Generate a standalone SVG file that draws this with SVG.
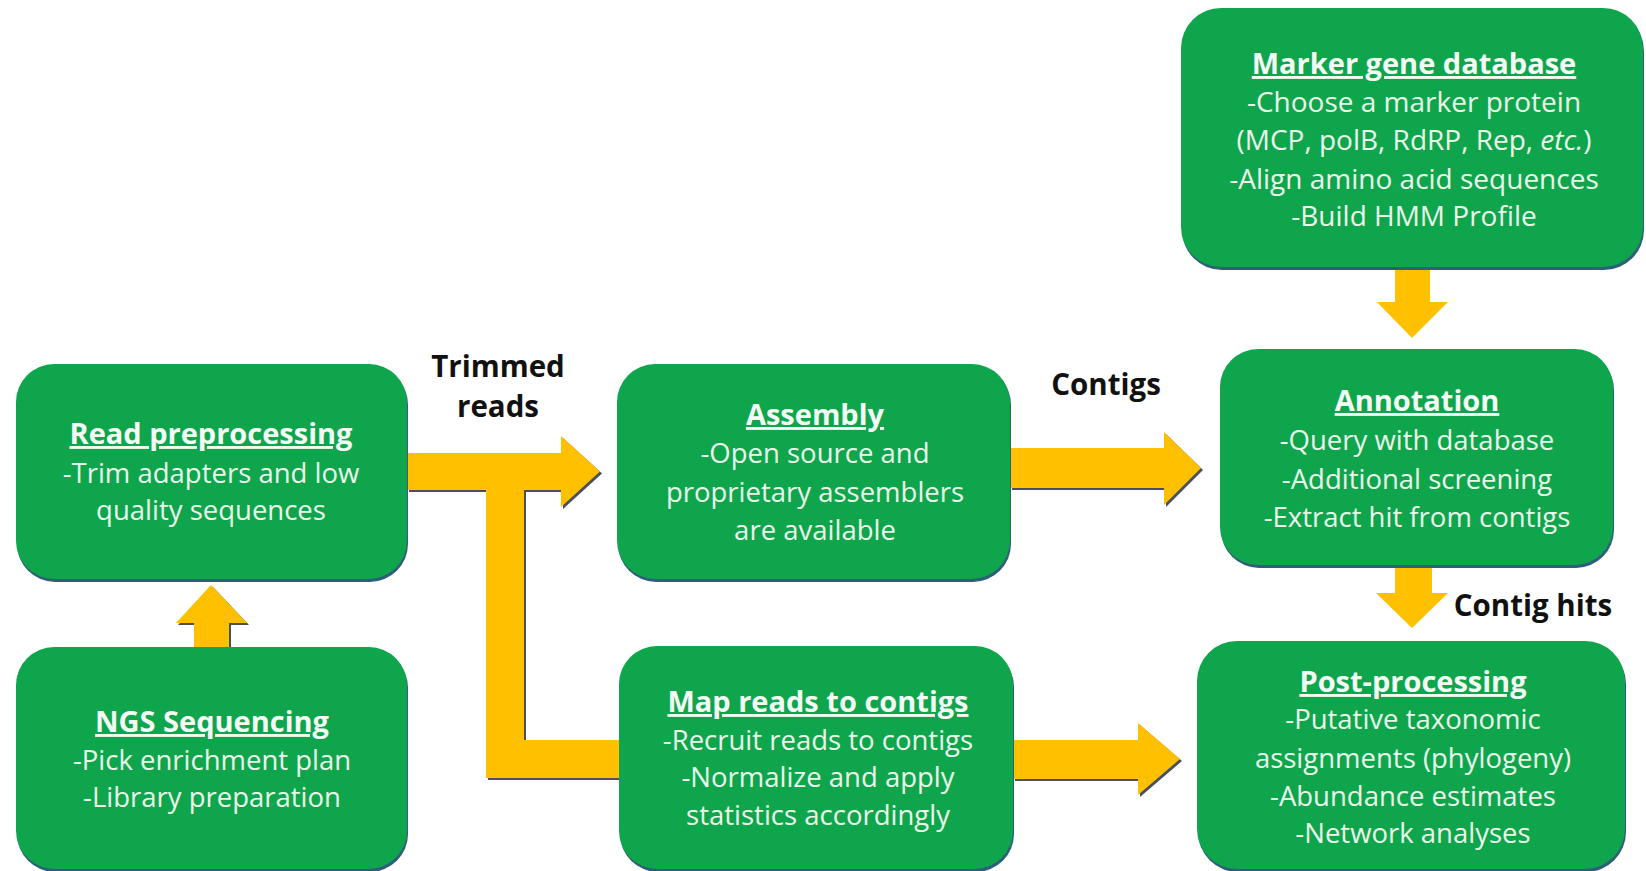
<svg xmlns="http://www.w3.org/2000/svg" width="1646" height="871" viewBox="0 0 1646 871">
<defs>
<style>
.box{fill:#0fa54d}
.sh{fill:#2d5f78}
.t{font-family:"Open Sans","Liberation Sans",sans-serif;fill:#eaf8ea;text-anchor:middle;font-size:27.5px}
.m{font-size:28px}
.h{font-weight:bold;text-decoration:underline;font-size:29px;fill:#f4fbf4}
.lab{font-family:"Open Sans","Liberation Sans",sans-serif;font-weight:bold;font-size:29.5px;fill:#111;text-anchor:middle}
.arr{fill:#ffc000}
.ash{fill:#4a4f5e}
</style>
</defs>
<rect width="1646" height="871" fill="#ffffff"/>
<g id="connectors">
<g id="arrow-trimmed">
<path class="ash" transform="translate(2,2)" d="M407,453 H561 V436 L600,471.5 L561,507 V490 H524 V740 H619 V778 H486 V490 H407 Z"/>
<path class="arr" d="M407,453 H561 V436 L600,471.5 L561,507 V490 H524 V740 H619 V778 H486 V490 H407 Z"/>
</g>
<g id="arrow-ngs">
<path class="ash" transform="translate(2,2)" d="M194,647 V623 H176 L211,585 L247,623 H229 V647 Z"/>
<path class="arr" d="M194,647 V623 H176 L211,585 L247,623 H229 V647 Z"/>
</g>
<g id="arrow-contigs">
<path class="ash" transform="translate(2,2)" d="M1010,448 H1164 V432 L1201,468 L1164,505 V488 H1010 Z"/>
<path class="arr" d="M1010,448 H1164 V432 L1201,468 L1164,505 V488 H1010 Z"/>
</g>
<g id="arrow-map">
<path class="ash" transform="translate(2,2)" d="M1013,740 H1138 V723 L1180,759 L1138,795 V779 H1013 Z"/>
<path class="arr" d="M1013,740 H1138 V723 L1180,759 L1138,795 V779 H1013 Z"/>
</g>
<g id="arrow-marker">
<path class="arr" d="M1395,267 H1430 V302 H1448 L1412,338 L1377,302 H1395 Z"/>
</g>
<g id="arrow-hits">
<path class="arr" d="M1395,565 H1432 V593 H1448 L1412,628 L1376,593 H1395 Z"/>
</g>
<text class="lab" x="498" y="377">Trimmed</text>
<text class="lab" x="498" y="417">reads</text>
<text class="lab" x="1106" y="395">Contigs</text>
<text class="lab" x="1533" y="616">Contig hits</text>
</g>
<g id="node-read">
<rect class="sh" x="17" y="367" width="391" height="215" rx="38"/>
<rect class="box" x="16" y="364" width="391" height="215" rx="38"/>
<text class="t h" x="211" y="444">Read preprocessing</text>
<text class="t" x="211" y="483">-Trim adapters and low</text>
<text class="t" x="211" y="520">quality sequences</text>
</g>
<g id="node-ngs">
<rect class="sh" x="17" y="650" width="391" height="222" rx="38"/>
<rect class="box" x="16" y="647" width="391" height="222" rx="38"/>
<text class="t h" x="212" y="732">NGS Sequencing</text>
<text class="t" x="212" y="770">-Pick enrichment plan</text>
<text class="t" x="212" y="807">-Library preparation</text>
</g>
<g id="node-assembly">
<rect class="sh" x="618" y="367" width="393" height="215" rx="38"/>
<rect class="box" x="617" y="364" width="393" height="215" rx="38"/>
<text class="t h" x="815" y="425">Assembly</text>
<text class="t" x="815" y="463">-Open source and</text>
<text class="t" x="815" y="502">proprietary assemblers</text>
<text class="t" x="815" y="540">are available</text>
</g>
<g id="node-map">
<rect class="sh" x="620" y="649" width="394" height="223" rx="38"/>
<rect class="box" x="619" y="646" width="394" height="223" rx="38"/>
<text class="t h" x="818" y="712">Map reads to contigs</text>
<text class="t" x="818" y="750">-Recruit reads to contigs</text>
<text class="t" x="818" y="787">-Normalize and apply</text>
<text class="t" x="818" y="825">statistics accordingly</text>
</g>
<g id="node-marker">
<rect class="sh" x="1182" y="11" width="462" height="259" rx="40"/>
<rect class="box" x="1181" y="8" width="462" height="259" rx="40"/>
<text class="t h" x="1414" y="74">Marker gene database</text>
<text class="t m" x="1414" y="112">-Choose a marker protein</text>
<text class="t m" x="1414" y="150">(MCP, polB, RdRP, Rep, <tspan font-style="italic">etc.</tspan>)</text>
<text class="t m" x="1414" y="189">-Align amino acid sequences</text>
<text class="t m" x="1414" y="226">-Build HMM Profile</text>
</g>
<g id="node-annotation">
<rect class="sh" x="1221" y="352" width="393" height="216" rx="38"/>
<rect class="box" x="1220" y="349" width="393" height="216" rx="38"/>
<text class="t h" x="1417" y="411">Annotation</text>
<text class="t" x="1417" y="450">-Query with database</text>
<text class="t" x="1417" y="489">-Additional screening</text>
<text class="t" x="1417" y="527">-Extract hit from contigs</text>
</g>
<g id="node-post">
<rect class="sh" x="1198" y="644" width="428" height="228" rx="40"/>
<rect class="box" x="1197" y="641" width="428" height="228" rx="40"/>
<text class="t h" x="1413" y="692">Post-processing</text>
<text class="t" x="1413" y="729">-Putative taxonomic</text>
<text class="t" x="1413" y="768">assignments (phylogeny)</text>
<text class="t" x="1413" y="806">-Abundance estimates</text>
<text class="t" x="1413" y="843">-Network analyses</text>
</g>
</svg>
